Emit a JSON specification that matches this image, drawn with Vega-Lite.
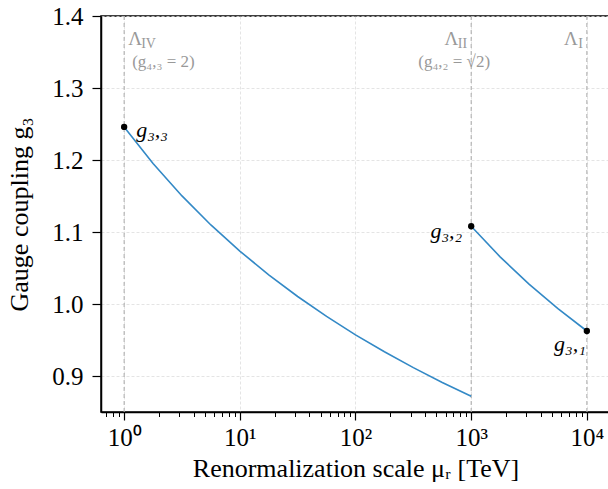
{
  "$schema": "https://vega.github.io/schema/vega-lite/v6.json",
  "width": 509,
  "height": 396,
  "autosize": {"type": "none"},
  "padding": {"left": 101, "top": 16, "right": 0, "bottom": 77},
  "background": "white",
  "config": {
    "font": "Liberation Serif",
    "view": {"stroke": "black", "strokeWidth": 1.5},
    "axis": {
      "domainColor": "black",
      "domainWidth": 1.5,
      "tickColor": "black",
      "tickWidth": 1.2,
      "labelFont": "Liberation Serif",
      "labelFontSize": 25,
      "labelColor": "black",
      "titleFont": "Liberation Serif",
      "titleFontSize": 26,
      "titleFontWeight": "normal",
      "titleColor": "black"
    }
  },
  "resolve": {"axis": {"x": "independent"}},
  "layer": [
    {
      "data": {"values": [{"mu": 1}, {"mu": 1000}, {"mu": 10000}]},
      "mark": {"type": "rule", "color": "#aaaaaa", "strokeDash": [4, 3], "strokeWidth": 1},
      "encoding": {
        "x": {
          "field": "mu", "type": "quantitative",
          "scale": {"type": "log", "domain": [0.631, 15849], "nice": false},
          "axis": {
            "orient": "bottom",
            "values": [0.7, 0.8, 0.9, 2, 3, 4, 5, 6, 7, 8, 9, 20, 30, 40, 50, 60, 70, 80, 90, 200, 300, 400, 500, 600, 700, 800, 900, 2000, 3000, 4000, 5000, 6000, 7000, 8000, 9000],
            "labels": false, "grid": false, "domain": false, "title": null,
            "tickSize": 4.5, "tickWidth": 1
          }
        }
      }
    },
    {
      "data": {"values": [
        {"mu": 1, "g": 1.246, "seg": "a"},
        {"mu": 1.7783, "g": 1.1952, "seg": "a"},
        {"mu": 3.1623, "g": 1.1501, "seg": "a"},
        {"mu": 5.6234, "g": 1.1098, "seg": "a"},
        {"mu": 10, "g": 1.0735, "seg": "a"},
        {"mu": 17.783, "g": 1.0405, "seg": "a"},
        {"mu": 31.623, "g": 1.0104, "seg": "a"},
        {"mu": 56.234, "g": 0.9827, "seg": "a"},
        {"mu": 100, "g": 0.9572, "seg": "a"},
        {"mu": 177.83, "g": 0.9336, "seg": "a"},
        {"mu": 316.23, "g": 0.9116, "seg": "a"},
        {"mu": 562.34, "g": 0.8911, "seg": "a"},
        {"mu": 1000, "g": 0.872, "seg": "a"},
        {"mu": 1000, "g": 1.108, "seg": "b"},
        {"mu": 1778.3, "g": 1.0655, "seg": "b"},
        {"mu": 3162.3, "g": 1.0276, "seg": "b"},
        {"mu": 5623.4, "g": 0.9935, "seg": "b"},
        {"mu": 10000, "g": 0.9625, "seg": "b"}
      ]},
      "mark": {"type": "line", "color": "#3389c6", "strokeWidth": 1.6},
      "encoding": {
        "x": {
          "field": "mu", "type": "quantitative",
          "scale": {"type": "log", "domain": [0.631, 15849], "nice": false},
          "axis": {
            "orient": "bottom",
            "values": [1, 10, 100, 1000, 10000],
            "labelExpr": "'10' + ['⁰','¹','²','³','⁴'][round(log(datum.value)/LN10)]",
            "grid": true, "gridColor": "#dddddd", "gridDash": [3, 2], "gridWidth": 0.8,
            "tickSize": 8, "labelPadding": 5,
            "title": "Renormalization scale μᵣ [TeV]", "titlePadding": 5
          }
        },
        "y": {
          "field": "g", "type": "quantitative",
          "scale": {"domain": [0.85, 1.4], "nice": false, "zero": false},
          "axis": {
            "values": [0.9, 1.0, 1.1, 1.2, 1.3, 1.4],
            "format": ".1f",
            "grid": true, "gridColor": "#dddddd", "gridDash": [3, 2], "gridWidth": 0.8,
            "tickSize": 9, "labelPadding": 9,
            "title": "Gauge coupling g₃", "titlePadding": 19
          }
        },
        "detail": {"field": "seg", "type": "nominal"}
      }
    },
    {
      "data": {"values": [
        {"mu": 1, "g": 1.246, "lab": "g₃,₃"},
        {"mu": 1000, "g": 1.108, "lab": "g₃,₂"},
        {"mu": 10000, "g": 0.9625, "lab": "g₃,₁"}
      ]},
      "layer": [
        {
          "mark": {"type": "point", "filled": true, "color": "black", "size": 40, "opacity": 1},
          "encoding": {
            "x": {"field": "mu", "type": "quantitative", "axis": null},
            "y": {"field": "g", "type": "quantitative"}
          }
        },
        {
          "transform": [{"filter": "datum.mu == 1"}],
          "mark": {"type": "text", "align": "left", "baseline": "middle", "dx": 12, "dy": 3, "fontSize": 22, "fontStyle": "italic", "color": "black"},
          "encoding": {
            "x": {"field": "mu", "type": "quantitative", "axis": null},
            "y": {"field": "g", "type": "quantitative"},
            "text": {"field": "lab"}
          }
        },
        {
          "transform": [{"filter": "datum.mu == 1000"}],
          "mark": {"type": "text", "align": "right", "baseline": "middle", "dx": -9, "dy": 5, "fontSize": 22, "fontStyle": "italic", "color": "black"},
          "encoding": {
            "x": {"field": "mu", "type": "quantitative", "axis": null},
            "y": {"field": "g", "type": "quantitative"},
            "text": {"field": "lab"}
          }
        },
        {
          "transform": [{"filter": "datum.mu == 10000"}],
          "mark": {"type": "text", "align": "right", "baseline": "middle", "dx": -1, "dy": 13, "fontSize": 22, "fontStyle": "italic", "color": "black"},
          "encoding": {
            "x": {"field": "mu", "type": "quantitative", "axis": null},
            "y": {"field": "g", "type": "quantitative"},
            "text": {"field": "lab"}
          }
        }
      ]
    },
    {
      "data": {"values": [{"mu": 1, "g": 1.36, "t": "Λ"}]},
      "mark": {"type": "text", "align": "left", "baseline": "alphabetic", "dx": 4, "fontSize": 19, "color": "#999999"},
      "encoding": {
        "x": {"field": "mu", "type": "quantitative", "axis": null},
        "y": {"field": "g", "type": "quantitative"},
        "text": {"field": "t"}
      }
    },
    {
      "data": {"values": [{"mu": 1, "g": 1.36, "t": "IV"}]},
      "mark": {"type": "text", "align": "left", "baseline": "alphabetic", "dx": 17, "dy": 3, "fontSize": 14, "color": "#999999"},
      "encoding": {
        "x": {"field": "mu", "type": "quantitative", "axis": null},
        "y": {"field": "g", "type": "quantitative"},
        "text": {"field": "t"}
      }
    },
    {
      "data": {"values": [{"mu": 1000, "g": 1.36, "t": "Λ"}]},
      "mark": {"type": "text", "align": "right", "baseline": "alphabetic", "dx": -13, "fontSize": 19, "color": "#999999"},
      "encoding": {
        "x": {"field": "mu", "type": "quantitative", "axis": null},
        "y": {"field": "g", "type": "quantitative"},
        "text": {"field": "t"}
      }
    },
    {
      "data": {"values": [{"mu": 1000, "g": 1.36, "t": "II"}, {"mu": 10000, "g": 1.36, "t": "I"}]},
      "mark": {"type": "text", "align": "right", "baseline": "alphabetic", "dx": -4, "dy": 3, "fontSize": 14, "color": "#999999"},
      "encoding": {
        "x": {"field": "mu", "type": "quantitative", "axis": null},
        "y": {"field": "g", "type": "quantitative"},
        "text": {"field": "t"}
      }
    },
    {
      "data": {"values": [{"mu": 10000, "g": 1.36, "t": "Λ"}]},
      "mark": {"type": "text", "align": "right", "baseline": "alphabetic", "dx": -9, "fontSize": 19, "color": "#999999"},
      "encoding": {
        "x": {"field": "mu", "type": "quantitative", "axis": null},
        "y": {"field": "g", "type": "quantitative"},
        "text": {"field": "t"}
      }
    },
    {
      "data": {"values": [{"mu": 1, "g": 1.329, "t": "(g₄,₃ = 2)"}]},
      "mark": {"type": "text", "align": "left", "baseline": "alphabetic", "dx": 8, "fontSize": 17, "color": "#999999"},
      "encoding": {
        "x": {"field": "mu", "type": "quantitative", "axis": null},
        "y": {"field": "g", "type": "quantitative"},
        "text": {"field": "t"}
      }
    },
    {
      "data": {"values": [{"mu": 1000, "g": 1.329, "t": "(g₄,₂ = √2)"}]},
      "mark": {"type": "text", "align": "center", "baseline": "alphabetic", "dx": -17, "fontSize": 17, "color": "#999999"},
      "encoding": {
        "x": {"field": "mu", "type": "quantitative", "axis": null},
        "y": {"field": "g", "type": "quantitative"},
        "text": {"field": "t"}
      }
    }
  ]
}
